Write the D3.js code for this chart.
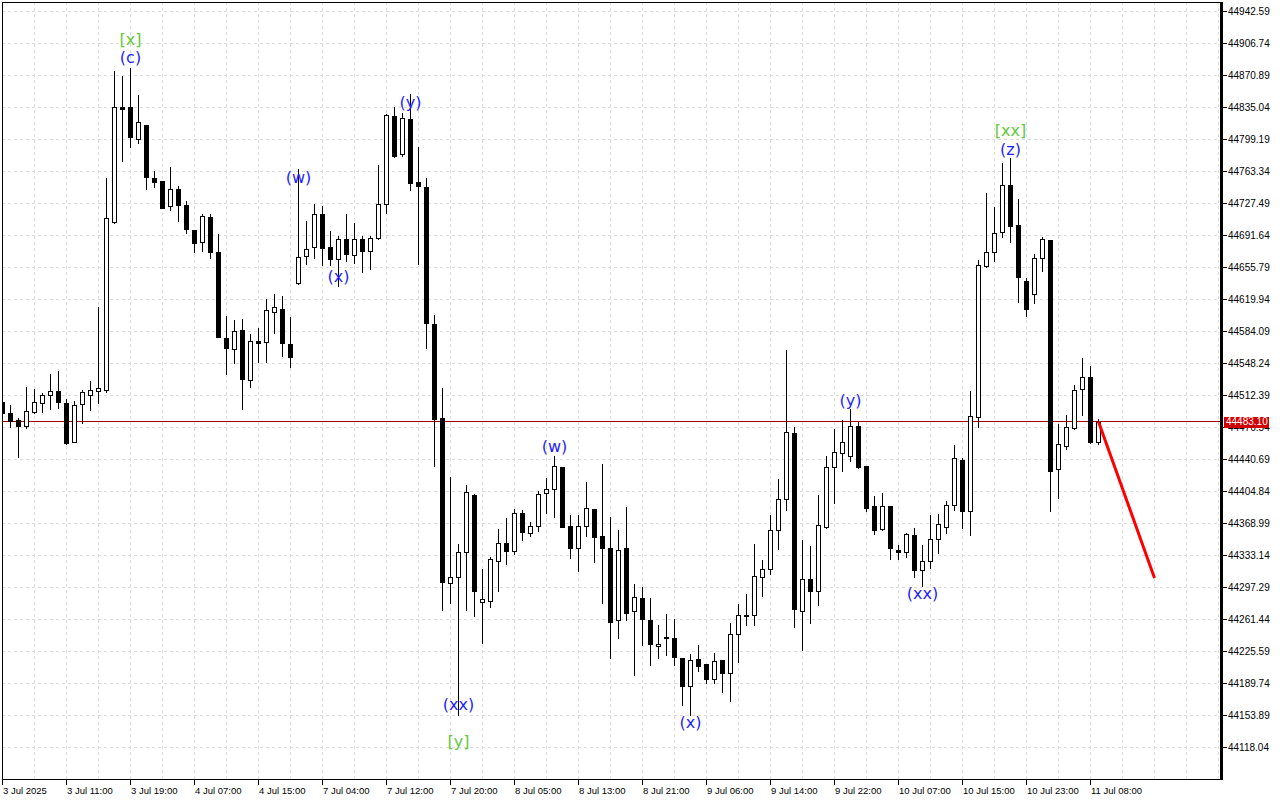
<!DOCTYPE html>
<html><head><meta charset="utf-8">
<script src="https://cdn.jsdelivr.net/npm/d3@7/dist/d3.min.js"></script>
<style>
html,body{margin:0;padding:0;background:#fff;}
svg{display:block;}
</style></head>
<body>
<svg id="chart" width="1280" height="800"></svg>
<script>
const openP = [44505.23,44492.23,44484.72,44478.34,44494.02,44503.43,44512.39,44517.21,44503.43,44460.41,
44502.31,44513.51,44516.88,44518.33,44706.88,44835.04,44835.04,44799.19,44814.88,44755.50,
44752.47,44724.47,44743.18,44725.59,44698.36,44683.80,44711.81,44672.60,44576.25,44564.26,
44586.33,44529.54,44573.23,44571.77,44606.05,44608.74,44569.87,44637.87,44668.79,44678.20,
44715.17,44678.54,44664.76,44687.16,44669.24,44687.16,44674.39,44688.28,44726.37,44825.30,
44782.39,44821.60,44751.02,44745.42,44592.27,44486.63,44302.89,44309.16,44337.17,44400.70,
44281.60,44282.28,44327.09,44347.70,44338.29,44381.31,44358.90,44365.96,44402.60,44407.09,
44431.73,44365.96,44342.10,44366.30,44385.79,44354.76,44342.10,44260.65,44341.02,44270.74,
44286.08,44260.65,44231.86,44241.61,44241.27,44217.75,44186.38,44216.63,44211.36,44195.34,
44215.84,44201.00,44245.75,44266.26,44266.26,44309.16,44318.12,44362.26,44395.88,44469.82,
44271.52,44306.59,44293.14,44365.18,44431.73,44447.42,44444.73,44478.00,44433.19,44388.37,
44362.94,44388.37,44339.86,44337.62,44356.66,44317.45,44326.75,44352.18,44365.18,44390.27,
44439.91,44383.10,44488.42,44657.59,44672.60,44695.68,44747.99,44703.18,44640.44,44626.66,
44665.88,44686.38,44429.49,44456.16,44475.43,44519.23,44532.56,44460.41];

const highP = [44509.37,44501.53,44486.96,44522.03,44519.45,44515.31,44536.26,44539.62,44508.25,44506.01,
44518.33,44528.75,44611.65,44756.17,44875.71,44870.44,44879.85,44848.82,44814.88,44764.01,
44752.47,44768.50,44747.21,44730.07,44698.36,44715.17,44715.51,44693.10,44601.24,44596.75,
44597.54,44581.07,44588.13,44619.94,44626.66,44623.64,44600.45,44766.70,44707.66,44726.71,
44724.47,44696.46,44690.86,44715.17,44705.09,44690.86,44690.86,44771.18,44827.54,44835.71,
44828.32,44849.94,44790.90,44755.50,44602.36,44520.24,44420.53,44346.58,44411.90,44401.82,
44317.79,44331.57,44362.60,44375.26,44385.79,44383.89,44370.78,44405.18,44419.41,44444.39,
44431.73,44379.07,44379.07,44415.60,44385.79,44435.09,44376.38,44361.48,44387.25,44301.77,
44297.96,44286.08,44255.05,44267.38,44262.56,44217.75,44222.56,44232.65,44211.36,44224.02,
44215.84,44256.96,44278.58,44289.78,44345.80,44327.87,44378.29,44418.63,44563.14,44477.22,
44350.28,44343.56,44400.70,44444.73,44474.64,44484.72,44497.05,44482.82,44433.19,44399.58,
44402.60,44388.37,44344.68,44358.90,44363.39,44344.68,44379.07,44380.19,44393.97,44456.72,
44441.82,44517.21,44663.97,44739.37,44723.01,44772.98,44777.91,44732.31,44643.47,44670.36,
44689.40,44686.94,44480.24,44490.33,44523.93,44554.18,44545.22,44485.51];

const lowP = [44484.72,44476.88,44443.61,44475.43,44492.90,44494.02,44497.05,44498.50,44458.40,44459.74,
44481.03,44495.93,44504.11,44516.43,44705.98,44775.22,44790.90,44794.71,44743.18,44745.42,
44722.56,44719.99,44708.00,44694.56,44672.60,44674.39,44666.55,44577.37,44535.92,44549.36,
44496.71,44522.03,44550.04,44550.04,44581.85,44556.76,44544.44,44637.08,44660.27,44666.55,
44659.15,44659.15,44635.18,44662.85,44660.95,44650.19,44654.22,44687.50,44716.96,44779.70,
44780.82,44742.39,44660.27,44565.72,44433.75,44271.86,44280.04,44155.01,44271.86,44265.47,
44235.22,44275.55,44293.48,44324.17,44334.59,44350.28,44354.76,44360.70,44381.31,44376.38,
44365.18,44330.45,44315.88,44355.09,44325.97,44280.04,44217.75,44240.82,44260.65,44199.04,
44232.65,44210.24,44217.75,44221.44,44210.24,44165.43,44154.56,44204.08,44190.41,44190.41,
44180.33,44170.25,44213.94,44255.05,44255.05,44287.54,44312.97,44340.19,44383.89,44252.48,
44227.04,44257.63,44277.46,44363.39,44392.07,44427.92,44439.13,44430.61,44383.10,44357.00,
44362.26,44328.99,44328.99,44330.90,44309.16,44299.08,44319.24,44335.71,44358.46,44383.89,
44364.06,44355.88,44477.22,44656.69,44662.85,44689.40,44684.47,44617.26,44601.24,44616.14,
44651.98,44383.10,44397.90,44452.46,44474.64,44490.33,44458.96,44458.40];

const closeP = [44492.23,44483.94,44478.34,44494.81,44504.89,44512.73,44517.21,44504.55,44459.29,44501.53,
44516.43,44518.33,44520.57,44710.69,44835.04,44833.47,44802.10,44818.24,44756.62,44751.69,
44722.56,44743.18,44725.25,44699.04,44683.35,44713.27,44673.27,44578.04,44565.05,44584.77,
44530.32,44573.23,44570.65,44607.96,44610.98,44570.65,44555.64,44667.67,44675.96,44715.17,
44677.75,44664.76,44687.16,44670.36,44687.16,44674.39,44688.28,44726.37,44826.42,44780.48,
44822.72,44750.57,44747.21,44593.06,44485.51,44303.56,44309.39,44337.17,44403.73,44293.48,
44284.18,44328.99,44347.70,44338.29,44381.31,44359.58,44365.96,44401.48,44407.09,44432.85,
44365.18,44341.02,44365.96,44386.91,44353.97,44342.10,44258.75,44339.86,44269.28,44286.76,
44261.44,44234.55,44234.55,44240.94,44218.87,44187.05,44215.51,44209.46,44195.34,44215.06,
44201.00,44245.00,44266.26,44265.47,44309.95,44318.57,44362.26,44395.88,44470.94,44273.76,
44307.37,44293.14,44366.75,44431.73,44448.54,44459.74,44477.67,44432.07,44386.91,44361.48,
44388.37,44341.65,44337.62,44357.78,44317.45,44327.09,44351.96,44367.87,44390.27,44441.82,
44383.10,44489.21,44658.37,44673.27,44695.00,44747.99,44702.40,44644.59,44608.74,44665.88,
44687.50,44427.92,44457.84,44476.55,44518.11,44532.56,44459.74,44483.10];

const priceTicks = [44942.59,44906.74,44870.89,44835.04,44799.19,44763.34,44727.49,44691.64,44655.79,
44619.94,44584.09,44548.24,44512.39,44476.54,44440.69,44404.84,44368.99,44333.14,44297.29,44261.44,
44225.59,44189.74,44153.89,44118.04];

const timeLabels = ["3 Jul 2025","3 Jul 11:00","3 Jul 19:00","4 Jul 07:00","4 Jul 15:00","7 Jul 04:00",
"7 Jul 12:00","7 Jul 20:00","8 Jul 05:00","8 Jul 13:00","8 Jul 21:00","9 Jul 06:00","9 Jul 14:00",
"9 Jul 22:00","10 Jul 07:00","10 Jul 15:00","10 Jul 23:00","11 Jul 08:00"];
const timeLabelBars = [0,8,16,24,32,40,48,56,64,72,80,88,96,104,112,120,128,136];

// wave labels: bar index, text, anchor price, degree (minor = blue round, major = green square)
const waveBars   = [16, 16, 37, 42, 51, 57, 57, 69, 86, 106, 115, 126, 126];
const waveTexts  = ["[x]","(c)","(w)","(x)","(y)","(xx)","[y]","(w)","(x)","(y)","(xx)","[xx]","(z)"];
const wavePrices = [44910.44,44890.27,44755.84,44644.93,44839.86,44165.43,44123.98,44454.48,44145.26,44506.01,44289.78,44808.49,44787.20];
const waveMajor  = [true,false,false,false,false,false,true,false,false,false,false,true,false];

const currentPrice = 44483.10;
const forecastBars = [137, 144];
const forecastPrices = [44483.10, 44308.04];

const svg = d3.select("#chart");
const W = 1280, H = 800;
const plotL = 2, plotR = 1221, plotT = 2, plotB = 779;

const x = d3.scaleLinear().domain([0, 152.3]).range([2.5, 1220.9]);
const y = d3.scaleLinear().domain([44118.04, 44942.59]).range([747.5, 11.5]);

svg.append("rect").attr("width", W).attr("height", H).attr("fill", "#fff");

svg.append("defs").append("clipPath").attr("id", "plotClip")
  .append("rect").attr("x", plotL + 1).attr("y", plotT + 1)
  .attr("width", plotR - plotL - 2).attr("height", plotB - plotT - 1);

const plot = svg.append("g").attr("clip-path", "url(#plotClip)");

// grid
const gridBars = d3.range(0, 153, 4);
plot.append("g").selectAll("line").data(gridBars).join("line")
  .attr("x1", d => Math.round(x(d) - 0.5) + 0.5).attr("x2", d => Math.round(x(d) - 0.5) + 0.5)
  .attr("y1", plotT).attr("y2", plotB)
  .attr("stroke", "#dcdcdc").attr("stroke-width", 1).attr("stroke-dasharray", "3,3");
plot.append("g").selectAll("line").data(priceTicks).join("line")
  .attr("x1", plotL).attr("x2", plotR)
  .attr("y1", d => Math.round(y(d) - 0.5) + 0.5).attr("y2", d => Math.round(y(d) - 0.5) + 0.5)
  .attr("stroke", "#dcdcdc").attr("stroke-width", 1).attr("stroke-dasharray", "3,3");

// current price line
plot.append("line")
  .attr("x1", plotL).attr("x2", plotR)
  .attr("y1", Math.round(y(currentPrice) - 0.5) + 0.5).attr("y2", Math.round(y(currentPrice) - 0.5) + 0.5)
  .attr("stroke", "#a80000").attr("stroke-width", 1);

// candles
const candles = openP.map((o, i) => ({ i, o, h: highP[i], l: lowP[i], c: closeP[i] }));
const cg = plot.append("g");
const snap = v => Math.round(v - 0.5) + 0.5;
candles.forEach(d => {
  const cx = snap(x(d.i));
  cg.append("line").attr("x1", cx).attr("x2", cx)
    .attr("y1", Math.round(y(d.h))).attr("y2", Math.round(y(d.l)) + 1)
    .attr("stroke", "#000").attr("stroke-width", 1);
  const top = Math.round(y(Math.max(d.o, d.c)));
  const bot = Math.round(y(Math.min(d.o, d.c)));
  if (d.c >= d.o) {
    cg.append("rect").attr("x", cx - 2).attr("y", top + 0.5)
      .attr("width", 4).attr("height", Math.max(1, bot - top))
      .attr("fill", "#fff").attr("stroke", "#000").attr("stroke-width", 1);
  } else {
    cg.append("rect").attr("x", cx - 2.5).attr("y", top)
      .attr("width", 5).attr("height", Math.max(2, bot - top + 1))
      .attr("fill", "#000");
  }
});

// forecast line
plot.append("line")
  .attr("x1", x(forecastBars[0])).attr("y1", y(forecastPrices[0]))
  .attr("x2", x(forecastBars[1])).attr("y2", y(forecastPrices[1]))
  .attr("stroke", "#ff0000").attr("stroke-width", 3);

// wave labels
plot.append("g").selectAll("text").data(waveTexts).join("text")
  .attr("x", (d, k) => x(waveBars[k]))
  .attr("y", (d, k) => y(wavePrices[k]))
  .attr("dy", "0.32em")
  .attr("text-anchor", "middle")
  .attr("font-family", "'DejaVu Sans', Verdana, sans-serif")
  .attr("font-size", 16)
  .attr("fill", (d, k) => waveMajor[k] ? "#62c93c" : "#1e1eff")
  .text(d => d);

// frame
svg.append("line").attr("x1", plotL + 0.5).attr("x2", plotL + 0.5).attr("y1", plotT).attr("y2", plotB + 1)
  .attr("stroke", "#000");
svg.append("line").attr("x1", plotL).attr("x2", plotR).attr("y1", plotT + 0.5).attr("y2", plotT + 0.5)
  .attr("stroke", "#000");
svg.append("line").attr("x1", plotL).attr("x2", plotR + 2).attr("y1", plotB + 0.5).attr("y2", plotB + 0.5)
  .attr("stroke", "#000");
svg.append("rect").attr("x", 1220).attr("y", plotT).attr("width", 3).attr("height", plotB - plotT + 1)
  .attr("fill", "#000");

// right price axis
const axisR = svg.append("g");
axisR.selectAll("line").data(priceTicks).join("line")
  .attr("x1", 1223).attr("x2", 1227)
  .attr("y1", d => snap(y(d))).attr("y2", d => snap(y(d)))
  .attr("stroke", "#000");
axisR.selectAll("text").data(priceTicks).join("text")
  .attr("x", 1228).attr("y", d => y(d)).attr("dy", "0.35em")
  .attr("font-family", "'Liberation Sans', Arial, sans-serif").attr("font-size", 10)
  .attr("fill", "#000")
  .text(d => d.toFixed(2));

// current price tag
const cpY = y(currentPrice);
svg.append("rect").attr("x", 1224).attr("y", Math.round(cpY) - 5).attr("width", 45).attr("height", 11)
  .attr("fill", "#d00000");
svg.append("text").attr("x", 1226).attr("y", cpY).attr("dy", "0.35em")
  .attr("font-family", "'Liberation Sans', Arial, sans-serif").attr("font-size", 10)
  .attr("fill", "#fff").text(currentPrice.toFixed(2));

// bottom time axis
const axisB = svg.append("g");
axisB.selectAll("line").data(timeLabelBars).join("line")
  .attr("x1", d => snap(x(d))).attr("x2", d => snap(x(d)))
  .attr("y1", plotB + 1).attr("y2", plotB + 6)
  .attr("stroke", "#000");
axisB.selectAll("text").data(timeLabels).join("text")
  .attr("x", (d, k) => x(timeLabelBars[k]) + 0.5)
  .attr("y", 794)
  .attr("font-family", "'Liberation Sans', Arial, sans-serif").attr("font-size", 9.5)
  .attr("fill", "#000")
  .text(d => d);
</script>
</body></html>
